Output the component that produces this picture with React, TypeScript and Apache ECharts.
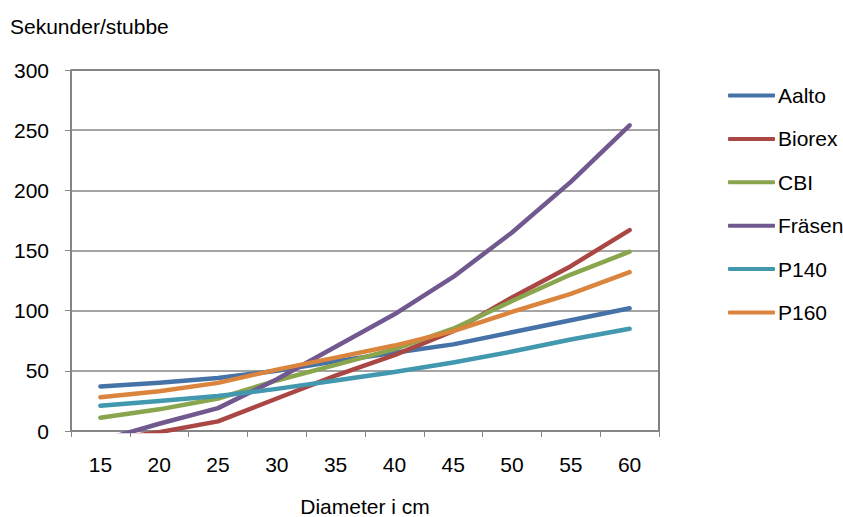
import React, { useEffect, useRef } from "react";
import * as echarts from "echarts";

const categories = ["15", "20", "25", "30", "35", "40", "45", "50", "55", "60"];
const aalto = [37, 40, 44, 50, 58, 65, 72, 82, 92, 102];
const biorex = [-8, -1, 8, 27, 46, 63, 83, 111, 137, 167];
const cbi = [11, 18, 27, 42, 55, 68, 85, 108, 130, 149];
const fraesen = [-8, 6, 19, 43, 70, 97, 128, 165, 207, 254];
const p140 = [21, 25, 29, 35, 42, 49, 57, 66, 76, 85];
const p160 = [28, 33, 40, 51, 61, 71, 83, 99, 114, 132];

const seriesNames = ["Aalto", "Biorex", "CBI", "Fräsen", "P140", "P160"];
const seriesData = [aalto, biorex, cbi, fraesen, p140, p160];
const colors = ["#4572A7", "#AA4643", "#89A54E", "#71588F", "#4198AF", "#DB843D"];

const FONT = "'Liberation Sans', Arial, sans-serif";

export default function App() {
  const ref = useRef<HTMLDivElement>(null);
  useEffect(() => {
    document.body.style.margin = "0";
    const chart = echarts.init(ref.current!, null, { renderer: "svg" });
    chart.setOption({
      animation: false,
      textStyle: { fontFamily: FONT },
      grid: {
        left: 71,
        right: 184,
        top: 70,
        bottom: 86,
        outerBoundsMode: "none",
        containLabel: false,
        show: true,
        borderColor: "#000000",
        borderWidth: 1,
        backgroundColor: "transparent",
      },
      graphic: [
        {
          type: "text",
          left: 10,
          top: 16,
          style: { text: "Sekunder/stubbe", fontSize: 21, fontFamily: FONT, fill: "#000" },
        },
      ],
      legend: {
        orient: "vertical",
        left: 723,
        top: 80,
        itemWidth: 47,
        itemHeight: 4,
        itemGap: 22.4,
        icon: "roundRect",
        data: seriesNames,
        textStyle: { fontSize: 21, fontFamily: FONT, color: "#000", lineHeight: 20, padding: [0, 0, 0, -2] },
      },
      xAxis: {
        type: "category",
        data: categories,
        boundaryGap: true,
        name: "Diameter i cm",
        nameLocation: "middle",
        nameGap: 65,
        nameTextStyle: { fontSize: 21, lineHeight: 20, color: "#000", fontFamily: FONT },
        axisLine: { lineStyle: { color: "#868686", width: 1.5 } },
        axisTick: { show: true, length: 6, inside: false, lineStyle: { color: "#868686" } },
        axisLabel: { fontSize: 21, color: "#000", margin: 23, fontFamily: FONT },
        splitLine: { show: false },
      },
      yAxis: {
        type: "value",
        min: 0,
        max: 300,
        interval: 50,
        axisLine: { show: true, lineStyle: { color: "#868686", width: 1.5 } },
        axisTick: { show: true, length: 6, lineStyle: { color: "#868686" } },
        axisLabel: { fontSize: 21, color: "#000", margin: 22, fontFamily: FONT },
        splitLine: { show: true, lineStyle: { color: "#868686", width: 1.5 } },
      },
      series: seriesNames.map((name, i) => ({
        name,
        type: "line",
        data: seriesData[i],
        symbol: "none",
        smooth: false,
        clip: true,
        color: colors[i],
        lineStyle: { width: 4.5, color: colors[i], cap: "round", join: "round" },
      })),
    });
    return () => chart.dispose();
  }, []);
  return <div ref={ref} style={{ width: 843, height: 517 }} />;
}
